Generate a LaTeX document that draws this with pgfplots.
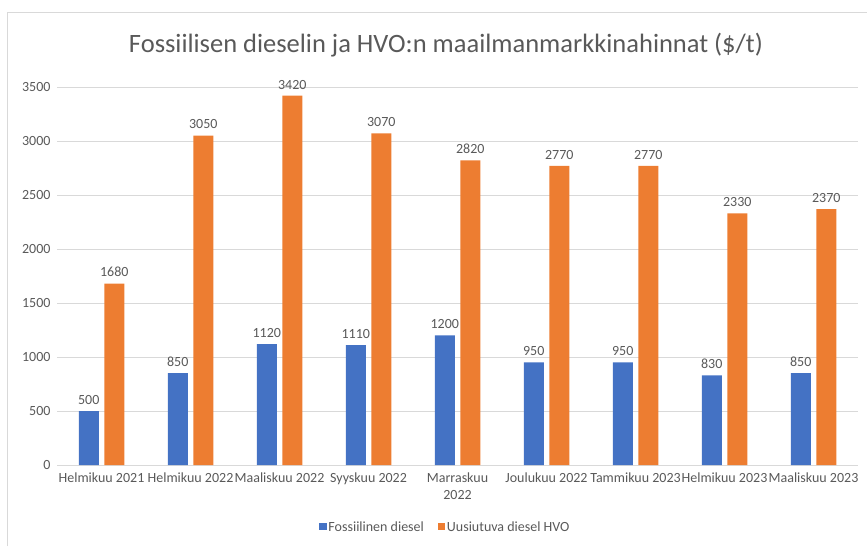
\documentclass[border=0pt]{standalone}
\usepackage{pgfplots}
\pgfplotsset{compat=1.18}
\usepackage{fontspec}
\setmainfont{Carlito}
\definecolor{xlblue}{HTML}{4472C4}
\definecolor{xlorange}{HTML}{ED7D31}
\definecolor{xlgrid}{HTML}{D9D9D9}
\definecolor{xltext}{HTML}{595959}

\begin{document}
\begin{tikzpicture}[x=1pt,y=1pt]
    \path[use as bounding box] (0,0) rectangle (867,546);
    \draw[xlgrid, line width=0.8pt] (7,0) -- (7,534) -- (867,534);
    \node[font=\fontsize{26.5}{30}\selectfont, text=xltext] at (446,501) {Fossiilisen dieselin ja HVO:n maailmanmarkkinahinnat (\$/t)};
    \begin{axis}[
        at={(57pt,81pt)}, anchor=south west,
        scale only axis,
        width=801pt, height=378pt,
        ybar=5.5pt,
        bar width=20pt,
        xmin=-0.5, xmax=8.5,
        ymin=0, ymax=3500,
        ytick={0,500,...,3500},
        xtick=data,
        xticklabels={Helmikuu 2021, Helmikuu 2022, Maaliskuu 2022, Syyskuu 2022, Marraskuu\\2022, Joulukuu 2022, Tammikuu 2023, Helmikuu 2023, Maaliskuu 2023},
        xticklabel style={align=center, font=\fontsize{14}{17}\selectfont, text=xltext, yshift=-4pt},
        yticklabel style={font=\fontsize{14}{17}\selectfont, text=xltext, xshift=-3pt},
        /pgf/number format/assume math mode=true,
        /pgf/number format/1000 sep={},
        axis line style={draw=none},
        major tick length=0pt,
        ymajorgrids=true,
        grid style={xlgrid, line width=0.9pt},
        axis x line*=bottom,
        nodes near coords,
        every node near coord/.append style={font=\fontsize{14}{17}\selectfont, text=xltext, yshift=3pt, /pgf/number format/assume math mode=true},
        legend columns=2,
        legend style={at={(0.485,-0.164)}, anchor=center, draw=none, fill=none,
            font=\fontsize{14}{17}\selectfont, text=xltext,
            /tikz/every even column/.append style={column sep=12pt}},
        legend image code/.code={\fill[#1] (0pt,-3.5pt) rectangle (7pt,3.5pt);},
    ]
        \addplot[draw=none, fill=xlblue] coordinates {
            (0,500) (1,850) (2,1120) (3,1110) (4,1200) (5,950) (6,950) (7,830) (8,850)
        };
        \addplot[draw=none, fill=xlorange] coordinates {
            (0,1680) (1,3050) (2,3420) (3,3070) (4,2820) (5,2770) (6,2770) (7,2330) (8,2370)
        };
        \legend{Fossiilinen diesel, Uusiutuva diesel HVO}
    \end{axis}
\end{tikzpicture}
\end{document}
